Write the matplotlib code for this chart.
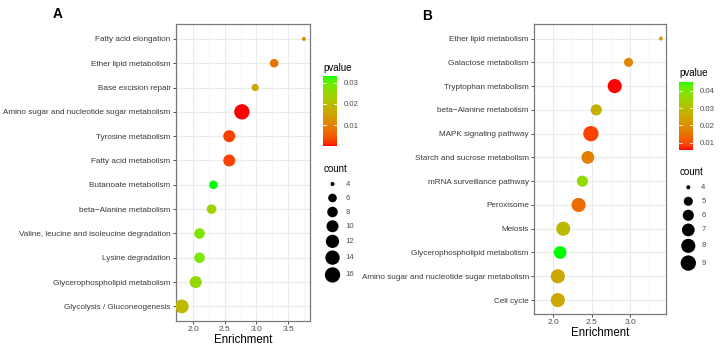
import numpy as np
import matplotlib
matplotlib.use("Agg")
import matplotlib.pyplot as plt
from matplotlib.colors import ListedColormap

plt.rcParams['font.family'] = ['Liberation Sans', 'DejaVu Sans']

# ---------------- data ----------------
terms_a = ["Fatty acid elongation", "Ether lipid metabolism", "Base excision repair",
           "Amino sugar and nucleotide sugar metabolism", "Tyrosine metabolism",
           "Fatty acid metabolism", "Butanoate metabolism", "beta\u2212Alanine metabolism",
           "Valine, leucine and isoleucine degradation", "Lysine degradation",
           "Glycerophospholipid metabolism", "Glycolysis / Gluconeogenesis"]
enrich_a = [3.75, 3.28, 2.98, 2.77, 2.57, 2.57, 2.32, 2.29, 2.10, 2.10, 2.04, 1.82]
count_a = [4, 6, 5, 16, 10, 10, 6, 7, 8, 8, 10, 13]
pval_a = [0.011, 0.008, 0.016, 0.0004, 0.003, 0.003, 0.0331, 0.024, 0.028, 0.028, 0.025, 0.019]
pticks_a = [0.01, 0.02, 0.03]
cbreaks_a = [4, 6, 8, 10, 12, 14, 16]
xticks_a = [2.0, 2.5, 3.0, 3.5]

terms_b = ["Ether lipid metabolism", "Galactose metabolism", "Tryptophan metabolism",
           "beta\u2212Alanine metabolism", "MAPK signaling pathway",
           "Starch and sucrose metabolism", "mRNA surveillance pathway", "Peroxisome",
           "Meiosis", "Glycerophospholipid metabolism",
           "Amino sugar and nucleotide sugar metabolism", "Cell cycle"]
enrich_b = [3.40, 2.98, 2.80, 2.56, 2.49, 2.45, 2.38, 2.33, 2.13, 2.09, 2.06, 2.06]
count_b = [4, 5, 8, 6, 9, 7, 6, 8, 8, 7, 8, 8]
pval_b = [0.024, 0.018, 0.0058, 0.026, 0.009, 0.017, 0.036, 0.014, 0.029, 0.0452, 0.025, 0.025]
pticks_b = [0.01, 0.02, 0.03, 0.04]
cbreaks_b = [4, 5, 6, 7, 8, 9]
xticks_b = [2.0, 2.5, 3.0]

# ---------------- colour ramp (Lab interpolation, red -> green) ----------------
M = np.array([[0.4124564, 0.3575761, 0.1804375],
              [0.2126729, 0.7151522, 0.0721750],
              [0.0193339, 0.1191920, 0.9503041]])
WHITE = np.array([0.95047, 1.0, 1.08883])
D = 6 / 29


def rgb2lab(rgb):
    c = np.asarray(rgb, float)
    lin = np.where(c <= 0.04045, c / 12.92, ((c + 0.055) / 1.055) ** 2.4)
    xyz = M @ lin / WHITE
    f = np.where(xyz > D ** 3, np.cbrt(xyz), xyz / (3 * D * D) + 4 / 29)
    return np.array([116 * f[1] - 16, 500 * (f[0] - f[1]), 200 * (f[1] - f[2])])


def lab2rgb(lab):
    L, a, b = lab
    fy = (L + 16) / 116
    fx = fy + a / 500
    fz = fy - b / 200
    f = np.array([fx, fy, fz])
    xyz = np.where(f > D, f ** 3, 3 * D * D * (f - 4 / 29)) * WHITE
    lin = np.linalg.solve(M, xyz)
    lin = np.clip(lin, 0, 1)
    c = np.where(lin <= 0.0031308, 12.92 * lin, 1.055 * lin ** (1 / 2.4) - 0.055)
    return np.clip(c, 0, 1)


lo, hi = rgb2lab([1, 0, 0]), rgb2lab([0, 1, 0])
cmap = ListedColormap([lab2rgb(lo + (hi - lo) * t) for t in np.linspace(0, 1, 256)])

DPI = 100
W, H = 721, 350
fig = plt.figure(figsize=(W / DPI, H / DPI), dpi=DPI)


def fax(l, t, r, b):
    return fig.add_axes([l / W, 1 - b / H, (r - l) / W, (b - t) / H])


def diam(c, cmin, cmax):
    t = (np.asarray(c, float) - cmin) / (cmax - cmin)
    size = 1 + 5 * np.sqrt(t)
    return 1.74 + 2.26 * size  # pixels


def s_from_d(d):
    return (np.asarray(d) * 72 / DPI) ** 2


TXT = '#4D4D4D'


def panel(box, terms, enrich, count, pval, xticks, label, labpos, xtitle_y,
          cbox, pticks, ptitle_y, cbreaks, leg_x, leg_y0, count_title_y):
    ax = fax(*box)
    n = len(terms)
    y = np.arange(n)
    cmin, cmax = min(count), max(count)
    pmin, pmax = min(pval), max(pval)
    ax.scatter(enrich, y, s=s_from_d(diam(count, cmin, cmax)), c=pval, cmap=cmap,
               vmin=pmin, vmax=pmax, linewidths=0, zorder=3)
    lo_, hi_ = min(enrich), max(enrich)
    ex = (hi_ - lo_) * 0.05
    ax.set_xlim(lo_ - ex, hi_ + ex)
    ax.set_ylim(n - 1 + 0.6, -0.6)
    ax.set_yticks(y)
    ax.set_yticklabels(terms, fontsize=5.85, color='#3A3A3A')
    ax.set_xticks(xticks)
    ax.set_xticklabels([f"{v:.1f}" for v in xticks], fontsize=6.0, color=TXT)
    mt = np.arange(xticks[0] - 0.25, hi_ + ex, 0.5)
    ax.set_xticks(mt, minor=True)
    ax.tick_params(axis='both', which='major', length=2.2, width=0.6, color='#333333', pad=1.5)
    ax.tick_params(axis='x', which='major', pad=1.2)
    ax.tick_params(axis='x', which='minor', length=0)
    ax.grid(True, which='major', color='#EBEBEB', lw=0.8, zorder=0)
    ax.grid(True, which='minor', axis='x', color='#F2F2F2', lw=0.5, zorder=0)
    ax.set_axisbelow(True)
    for sp in ax.spines.values():
        sp.set_color('#7A7A7A')
        sp.set_linewidth(0.9)
    cx = (box[0] + box[2]) / 2
    fig.text(cx / W, 1 - xtitle_y / H, "Enrichment", fontsize=8.3, ha='center', va='center')
    fig.text(labpos[0] / W, 1 - labpos[1] / H, label, fontsize=9.8, fontweight='bold',
             ha='center', va='center')

    # colour bar
    cax = fax(*cbox)
    grad = np.linspace(0, 1, 256).reshape(-1, 1)
    cax.imshow(grad, cmap=cmap, aspect='auto', origin='lower',
               extent=[0, 1, pmin, pmax])
    cax.set_xlim(0, 1)
    cax.set_ylim(pmin, pmax)
    cax.set_xticks([])
    cax.yaxis.tick_right()
    cax.set_yticks(pticks)
    cax.set_yticklabels([f"{v:.2f}" for v in pticks], fontsize=5.6, color=TXT)
    cax.tick_params(axis='y', length=0, pad=5)
    for v in pticks:
        cax.plot([0, 0.2], [v, v], color='white', lw=0.6)
        cax.plot([0.8, 1], [v, v], color='white', lw=0.6)
    for sp in cax.spines.values():
        sp.set_visible(False)
    fig.text(cbox[0] / W, 1 - ptitle_y / H, "pvalue", fontsize=7, ha='left', va='center')

    # size legend
    fig.text(cbox[0] / W, 1 - count_title_y / H, "count", fontsize=7, ha='left', va='center')
    lax = fig.add_axes([0, 0, 1, 1], facecolor='none')
    lax.set_xlim(0, W)
    lax.set_ylim(H, 0)
    lax.axis('off')
    ds = diam(cbreaks, cmin, cmax)
    hts = np.maximum(14, ds + 2.5)
    ys = [leg_y0]
    for i in range(1, len(cbreaks)):
        ys.append(ys[-1] + (hts[i - 1] + hts[i]) / 2)
    lax.scatter([leg_x] * len(cbreaks), ys, s=s_from_d(ds), color='black', linewidths=0)
    for b, yy in zip(cbreaks, ys):
        lax.text(leg_x + 13, yy, str(b), fontsize=5.6, color=TXT, ha='left', va='center')
    return ax


panel((175.7, 24.3, 310, 321), terms_a, enrich_a, count_a, pval_a, xticks_a,
      "A", (57.5, 14.5), 340.3, (323.3, 76, 336.7, 145.7), pticks_a, 68,
      cbreaks_a, 332.5, 184, 168.5)
panel((534, 24.3, 666, 314.3), terms_b, enrich_b, count_b, pval_b, xticks_b,
      "B", (427, 16.5), 333.3, (679.3, 81.7, 692.7, 150), pticks_b, 73,
      cbreaks_b, 688.3, 187.3, 172)

fig.savefig("out.png", dpi=DPI)
